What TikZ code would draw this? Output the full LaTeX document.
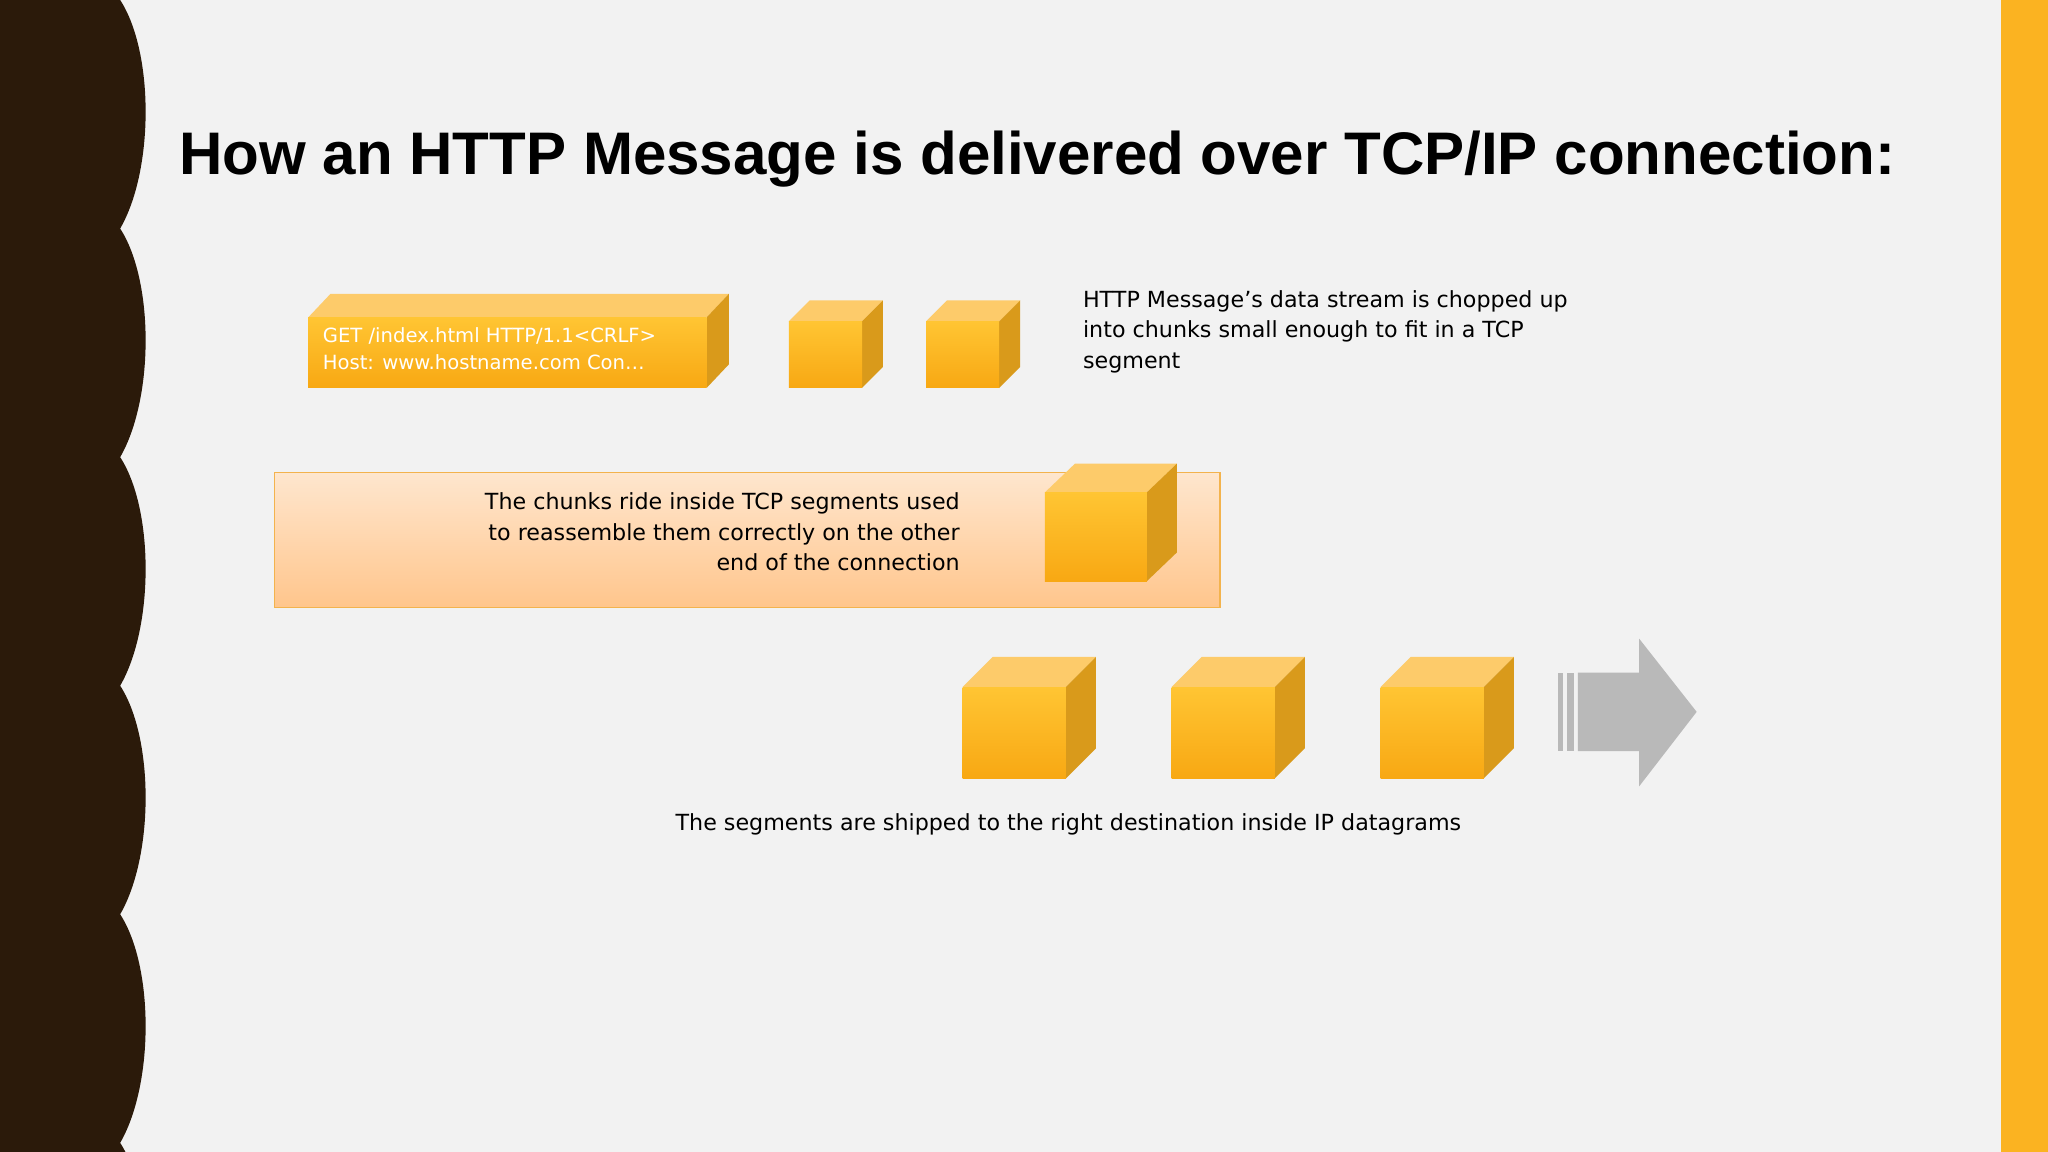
\documentclass[tikz,border=0pt]{standalone}
\usepackage{fontspec}
\setmainfont{DejaVu Sans}
\newfontfamily\titlefont{Liberation Sans}
\begin{document}
\begin{tikzpicture}[x=1pt,y=-1pt,
  txt/.style={font=\fontsize{17}{23.5}\selectfont,text=black,inner sep=0},
  cfront/.style={top color=#1!60!white!100!orange, bottom color=orange!95!yellow},
]
\definecolor{bg}{HTML}{F2F2F2}
\definecolor{brown}{HTML}{2B1A0A}
\definecolor{ostrip}{HTML}{FBB321}
\definecolor{ftop}{HTML}{FFC533}
\definecolor{fbot}{HTML}{F8A813}
\definecolor{topc}{HTML}{FDCB6A}
\definecolor{sidec}{HTML}{D99A1B}
\definecolor{edgec}{HTML}{F0A020}
\useasboundingbox (0,0) rectangle (1568,882);
\fill[bg] (0,0) rectangle (1568,882);
% left wavy band
\fill[brown] (0,0) -- (92,0)
  \foreach \k in {0,...,5} { .. controls (92+26,{\k*175+40}) and (118,{\k*175+130}) .. (92,{\k*175+175}) }
  -- (0,882) -- cycle;
\fill[ostrip] (1532,0) rectangle (1568,882);
% title
\node[anchor=west,inner sep=0,font=\titlefont\bfseries\fontsize{46}{50}\selectfont] (title) at (137,122) {How an HTTP Message is delivered over TCP/IP connection:};
% cube macro via pic
\tikzset{cube/.pic={
  \fill[topc] (0,0) -- (\dx,-\dy) -- (\w+\dx,-\dy) -- (\w,0) -- cycle;
  \fill[sidec] (\w,0) -- (\w+\dx,-\dy) -- (\w+\dx,\h-\dy) -- (\w,\h) -- cycle;
  \shade[top color=ftop,bottom color=fbot] (0,0) rectangle (\w,\h);
}}
% message block
\def\w{305}\def\h{54}\def\dx{17}\def\dy{18}
\pic at (236,243) {cube};
\node[anchor=north west,align=left,text=white,inner sep=0,font=\fontsize{15}{20}\selectfont] (msg) at (247,251) {GET /index.html HTTP/1.1<CRLF>\\ Host: www.hostname.com Con\ldots};
\def\w{56}\def\h{51}\def\dx{16}\def\dy{16}
\pic at (604,246) {cube};
\pic at (709,246) {cube};
\node[txt,anchor=north west,align=left] (t1) at (829,222) {HTTP Message’s data stream is chopped up\\ into chunks small enough to fit in a TCP\\ segment};
% tcp segment box
\shade[top color=orange!20!white!95!bg, bottom color=orange!45!white, draw=edgec!80!white, line width=1pt] (210,362) rectangle (934,465);
\node[txt,anchor=north east,align=right] (t2) at (735,377) {The chunks ride inside TCP segments used\\ to reassemble them correctly on the other\\ end of the connection};
\def\w{78}\def\h{68}\def\dx{23}\def\dy{22}
\pic at (800,377) {cube};
% three cubes
\def\w{79}\def\h{70}\def\dx{23}\def\dy{23}
\pic at (737,526) {cube};
\pic at (897,526) {cube};
\pic at (1057,526) {cube};
% arrow
\fill[gray!55] (1193,515) rectangle (1197,575);
\fill[gray!55] (1200,515) rectangle (1205,575);
\fill[gray!55] (1208,515) -- (1255,515) -- (1255,489) -- (1299,545) -- (1255,602) -- (1255,575) -- (1208,575) -- cycle;
\node[txt,anchor=center] (t3) at (818,631) {The segments are shipped to the right destination inside IP datagrams};
\end{tikzpicture}
\end{document}
